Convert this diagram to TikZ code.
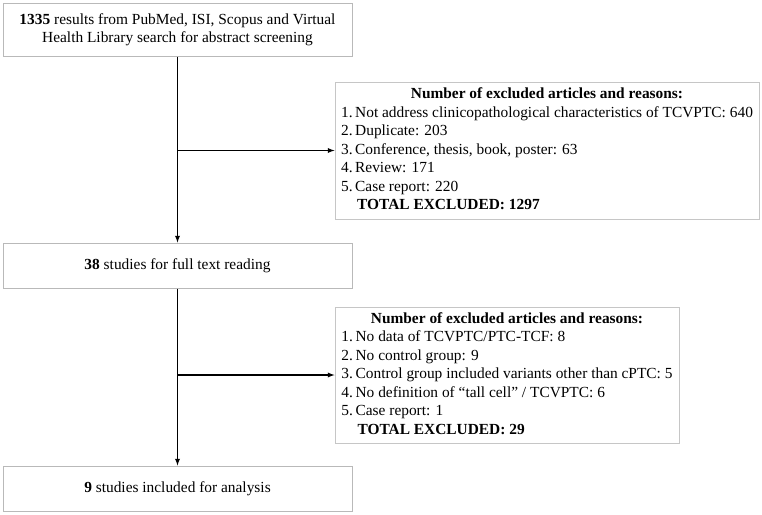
\documentclass[tikz,border=0pt]{standalone}
\usepackage{fontspec}
\setmainfont{Liberation Serif}
\usepackage{tikz}
\usetikzlibrary{arrows,positioning,calc}

\begin{document}
\begin{tikzpicture}[x=1pt,y=-1pt,
    mainbox/.style={draw=gray!55, line width=1pt, minimum width=349pt, align=center, inner sep=4pt, font=\fontsize{15.4}{18}\selectfont},
    exclbox/.style={draw=gray!45, line width=1pt, inner sep=3pt, font=\fontsize{15.4}{18.5}\selectfont},
    flow/.style={-latex, line width=1.3pt}]
    \useasboundingbox (0,0) rectangle (762,514);

    % Main flow of the screening
    \node[mainbox, minimum height=53pt] (search) at (177.5,29.5)
        {\textbf{1335} results from PubMed, ISI, Scopus and Virtual\\Health Library search for abstract screening};
    \node[mainbox, minimum height=45pt] (fulltext) at (177.5,265.5) {\textbf{38} studies for full text reading};
    \node[mainbox, minimum height=45pt] (included) at (177.5,488.5) {\textbf{9} studies included for analysis};

    % First round of exclusions
    \node[exclbox, minimum width=424pt, minimum height=137pt] (excl1) at (547,150.5) {%
        \begin{tabular}{@{}r@{\,}l@{}}
        \multicolumn{2}{c}{\textbf{Number of excluded articles and reasons:}}\\
        1. & Not address clinicopathological characteristics of TCVPTC: 640\\
        2. & Duplicate: 203\\
        3. & Conference, thesis, book, poster: 63\\
        4. & Review: 171\\
        5. & Case report: 220\\
           & \hspace{2pt}\textbf{TOTAL EXCLUDED: 1297}
        \end{tabular}};

    % Second round of exclusions
    \node[exclbox, minimum width=344pt, minimum height=136pt] (excl2) at (507,375) {%
        \begin{tabular}{@{}r@{\,}l@{}}
        \multicolumn{2}{c}{\textbf{Number of excluded articles and reasons:}}\\
        1. & No data of TCVPTC/PTC-TCF: 8\\
        2. & No control group: 9\\
        3. & Control group included variants other than cPTC: 5\\
        4. & No definition of “tall cell” / TCVPTC: 6\\
        5. & Case report: 1\\
           & \hspace{2pt}\textbf{TOTAL EXCLUDED: 29}
        \end{tabular}};

    % Branch points on the main line
    \coordinate (split1) at (search.south |- excl1.west);
    \coordinate (split2) at (fulltext.south |- excl2.west);

    % Arrows
    \draw[flow] (search.south) -- (fulltext.north);
    \draw[flow] (fulltext.south) -- (included.north);
    \draw[flow] (split1) -- (excl1.west);
    \draw[flow] (split2) -- (excl2.west);
\end{tikzpicture}
\end{document}
